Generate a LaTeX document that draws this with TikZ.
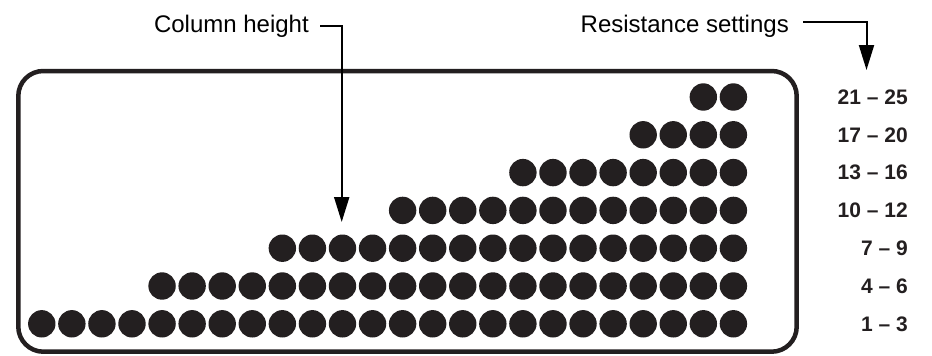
\documentclass[tikz,border=0pt]{standalone}
\usepackage{fontspec}
\setmainfont{Liberation Sans}
\usetikzlibrary{arrows.meta}
\definecolor{ink}{RGB}{35,31,32}
\begin{document}
\begin{tikzpicture}[x=1pt,y=-1pt,
  dotc/.style={circle,fill=ink,draw=none,inner sep=0pt,minimum size=27.4pt},
  callout/.style={font=\fontsize{24}{28}\selectfont,inner sep=0pt,text=black,anchor=base east},
  level/.style={font=\fontsize{21}{25}\selectfont\bfseries,inner sep=0pt,anchor=east,text=ink},
  lead/.style={draw=black,line width=2pt,-{Triangle[length=25pt,width=15pt]}},
  frame/.style={draw=ink,line width=4.5pt,rounded corners=25pt}]
\useasboundingbox (0,0) rectangle (932,356);
% display frame
\draw[frame] (18.3,71) rectangle (796.7,351.7);
% dot columns
\foreach \n [count=\r from 0] in {2,4,8,12,16,20,24} {
  \pgfmathsetmacro\rowy{97+37.8*\r}
  \foreach \i in {1,...,\n} {
    \node[dotc] (d\r-\i) at ({733.4-30.07*(\i-1)},\rowy) {};
  }
}
% level labels
\node[level] (l0) at (908,97) {21 -- 25};
\node[level] (l1) at (908,134.8) {17 -- 20};
\node[level] (l2) at (908,172.6) {13 -- 16};
\node[level] (l3) at (908,210.4) {10 -- 12};
\node[level] (l4) at (908,248.2) {7 -- 9};
\node[level] (l5) at (908,286) {4 -- 6};
\node[level] (l6) at (908,323.8) {1 -- 3};
% callouts
\node[callout] (colh) at (309,32) {Column height};
\node[callout] (res) at (789,32) {Resistance settings};
\coordinate (coltip) at (341.7,222);
\coordinate (restip) at (866.5,70);
\draw[lead] ([xshift=11pt]colh.east) -| (coltip);
\draw[lead] ([xshift=14pt,yshift=4pt]res.east) -| (restip);
\end{tikzpicture}
\end{document}
